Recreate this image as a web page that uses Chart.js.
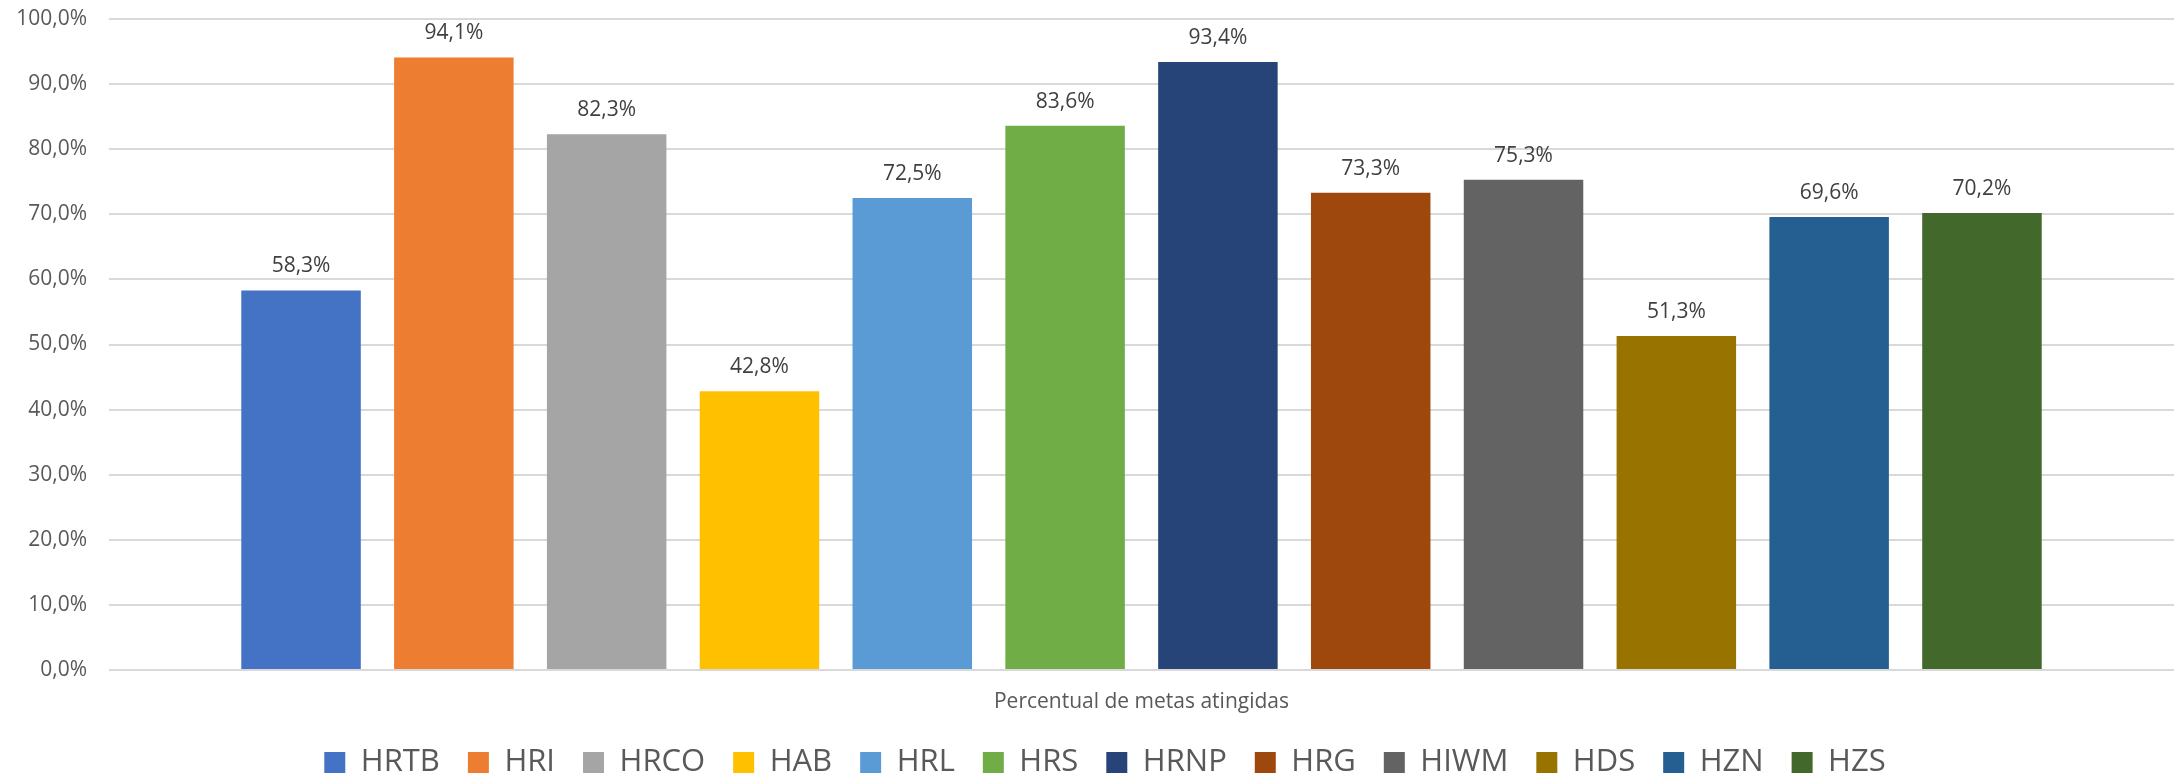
<!DOCTYPE html>
<html>
<head>
<meta charset="utf-8">
<script src="https://cdn.jsdelivr.net/npm/chart.js@4/dist/chart.umd.min.js"></script>
<style>
  html, body { margin: 0; padding: 0; background: #fff; }
  #wrap { width: 2178px; height: 778px; }
</style>
</head>
<body>
<div id="wrap"><canvas id="metasChart" width="2178" height="778"></canvas></div>
<script>
// Dados do gráfico
const categorias = ['Percentual de metas atingidas'];
const hospitais = ['HRTB', 'HRI', 'HRCO', 'HAB', 'HRL', 'HRS', 'HRNP', 'HRG', 'HIWM', 'HDS', 'HZN', 'HZS'];
const percentuais = [58.3, 94.1, 82.3, 42.8, 72.5, 83.6, 93.4, 73.3, 75.3, 51.3, 69.6, 70.2];
const cores = ['#4472C4', '#ED7D31', '#A5A5A5', '#FFC000', '#5B9BD5', '#70AD47',
               '#264478', '#9E480E', '#636363', '#997300', '#255E91', '#43682B'];

const fonte = "'Open Sans', sans-serif";

function formatPct(v, casas) {
    return v.toFixed(casas).replace('.', ',') + '%';
}

// Plugin simples para escrever o valor em cima de cada barra
const rotulosBarras = {
    id: 'rotulosBarras',
    afterDatasetsDraw(chart) {
        const ctx = chart.ctx;
        ctx.save();
        ctx.font = '21px ' + fonte;
        ctx.fillStyle = '#404040';
        ctx.textAlign = 'center';
        ctx.textBaseline = 'middle';
        chart.data.datasets.forEach((ds, i) => {
            const meta = chart.getDatasetMeta(i);
            meta.data.forEach((bar, j) => {
                ctx.fillText(formatPct(ds.data[j], 1), bar.x, bar.y - 24);
            });
        });
        ctx.restore();
    }
};

// Legenda um pouco deslocada para a direita, como no original
const ajusteLegenda = {
    id: 'ajusteLegenda',
    afterLayout(chart) {
        chart.legend.left += 18;
        chart.legend.right += 18;
    }
};

const datasets = hospitais.map((h, i) => ({
    label: h,
    data: [percentuais[i]],
    backgroundColor: cores[i],
    borderWidth: 0,
    categoryPercentage: 0.888,
    barPercentage: 0.782
}));

new Chart(document.getElementById('metasChart').getContext('2d'), {
    type: 'bar',
    data: { labels: categorias, datasets: datasets },
    plugins: [rotulosBarras, ajusteLegenda],
    options: {
        responsive: false,
        animation: false,
        layout: { padding: { top: 19, right: 4, left: 0, bottom: -10 } },
        plugins: {
            tooltip: { enabled: false },
            legend: {
                position: 'bottom',
                labels: {
                    boxWidth: 21,
                    boxHeight: 21,
                    padding: 28,
                    color: '#595959',
                    font: { family: fonte, size: 31 }
                }
            }
        },
        scales: {
            x: {
                afterFit(scale) { scale.height = 49; },
                grid: { display: false, drawTicks: false },
                border: { display: false },
                ticks: { color: '#595959', font: { family: fonte, size: 21 }, padding: 19 }
            },
            y: {
                min: 0,
                max: 100,
                afterFit(scale) { scale.width = 109; },
                ticks: {
                    stepSize: 10,
                    color: '#595959',
                    padding: 0,
                    font: { family: fonte, size: 21 },
                    callback: v => formatPct(v, 1)
                },
                grid: {
                    color: '#d9d9d9',
                    lineWidth: 2,
                    drawTicks: true,
                    tickLength: 22,
                    tickColor: 'rgba(0,0,0,0)'
                },
                border: { display: false }
            }
        }
    }
});
</script>
</body>
</html>
